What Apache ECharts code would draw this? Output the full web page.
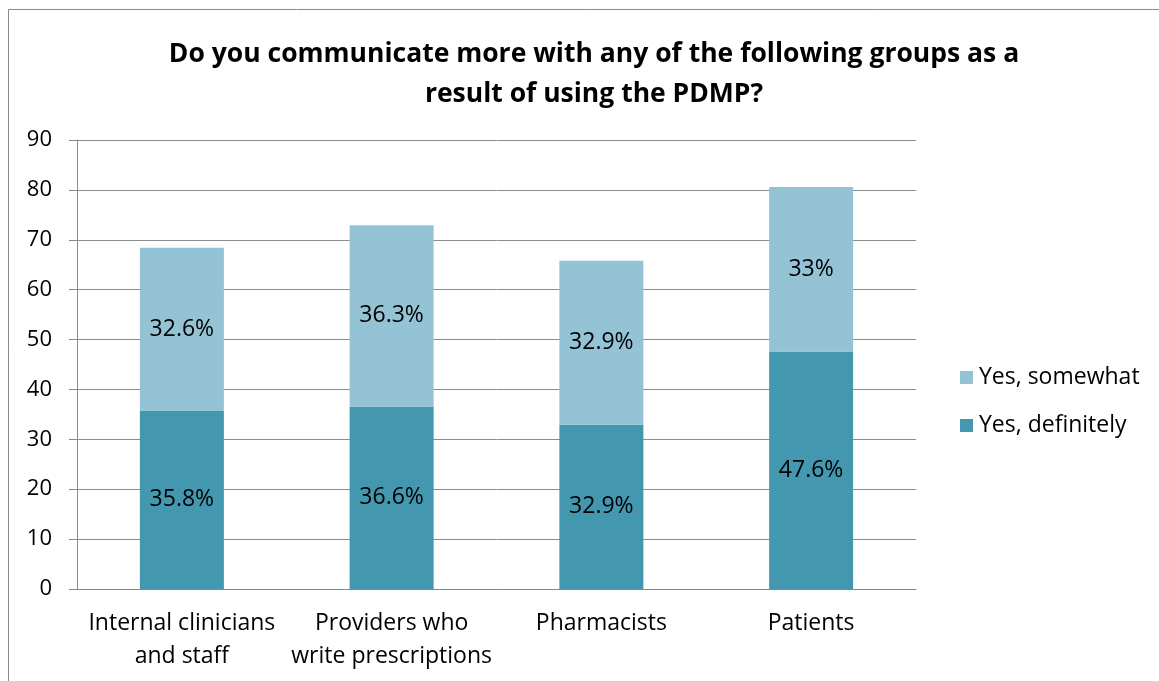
<!DOCTYPE html>
<html><head><meta charset="utf-8">
<script src="https://cdn.jsdelivr.net/npm/echarts@6/dist/echarts.min.js"></script>
<style>html,body{margin:0;padding:0;background:#fff}#c{width:1159px;height:681px}</style>
</head><body><div id="c"></div>
<script>
const categories = ["Internal clinicians\nand staff", "Providers who\nwrite prescriptions", "Pharmacists", "Patients"];
const definitely = [35.8, 36.6, 32.9, 47.6];
const somewhat = [32.6, 36.3, 32.9, 33];
const yTicks = [0, 90, 10];
const titleText = "Do you communicate more with any of the following groups as a\nresult of using the PDMP?";
const FONT = "Open Sans";
const chart = echarts.init(document.getElementById('c'), null, {renderer:'canvas'});
const lbl = {show:true, position:'inside', color:'#000', fontSize:23, fontFamily:FONT, formatter: p => p.value + '%'};
chart.setOption({
  animation:false,
  graphic:[{type:'rect', shape:{x:8.5, y:9.5, width:1200, height:700}, style:{fill:null, stroke:'#8a8a8a', lineWidth:1}}],
  title:{text:titleText, left:589, textAlign:'center', top:29, textStyle:{fontFamily:FONT, fontWeight:'bold', fontSize:26.5, color:'#000', lineHeight:40}},
  legend:{orient:'vertical', left:955, top:361, itemGap:25, itemWidth:13, itemHeight:13, icon:'rect',
    data:['Yes, somewhat','Yes, definitely'], textStyle:{fontFamily:FONT, fontSize:23, color:'#000', padding:[0,0,0,1]}},
  grid:{left:77, right:243, top:140, bottom:92, containLabel:false},
  xAxis:{type:'category', data:categories,
    axisLine:{lineStyle:{color:'#878787', width:1}}, axisTick:{length:7, lineStyle:{color:'#878787'}},
    axisLabel:{color:'#000', fontSize:23, fontFamily:FONT, lineHeight:33, margin:18, interval:0}},
  yAxis:{type:'value', min:yTicks[0], max:yTicks[1], interval:yTicks[2],
    axisLine:{show:true, lineStyle:{color:'#878787'}}, axisTick:{show:true, length:8, lineStyle:{color:'#878787'}},
    splitLine:{lineStyle:{color:'#8c8c8c', width:1}},
    axisLabel:{color:'#000', fontSize:22, fontFamily:FONT, margin:25}},
  series:[
    {name:'Yes, definitely', type:'bar', stack:'a', data:definitely, barWidth:84, itemStyle:{color:'#4398B0'}, label:lbl},
    {name:'Yes, somewhat', type:'bar', stack:'a', data:somewhat, barWidth:84, itemStyle:{color:'#93C3D4'}, label:lbl}
  ]
});
</script></body></html>
